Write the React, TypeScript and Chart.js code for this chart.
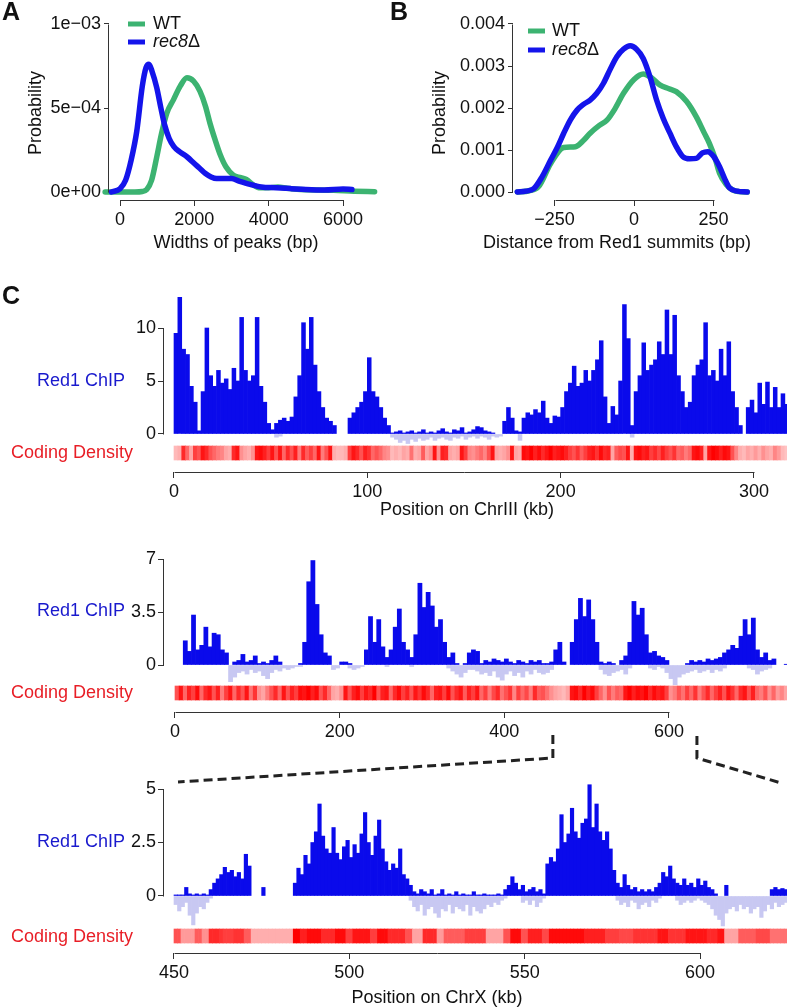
import React, { useEffect, useRef } from 'react';
import { Chart, registerables } from 'chart.js';
Chart.register(...registerables);

const FONT = "'Liberation Sans', Arial, Helvetica, sans-serif";
Chart.defaults.font.family = FONT;
Chart.defaults.color = '#111';

// ---------- Panel A: widths of peaks (bp) ----------
const A_WT_X = [-400, 0, 400, 600, 720, 850, 990, 1120, 1260, 1440, 1620, 1800, 1980, 2150, 2300, 2420, 2560, 2700, 2850, 3050, 3250, 3400, 3600, 3770, 4000, 4250, 4500, 4850, 5300, 5750, 6300, 6850];
const A_WT_Y = [0, 0, 0, 0.000003, 0.000015, 0.00007, 0.00021, 0.00035, 0.00047, 0.00055, 0.00063, 0.00068, 0.00066, 0.0006, 0.00051, 0.00041, 0.00031, 0.00022, 0.00015, 0.0001, 0.000085, 0.000075, 0.00004, 0.000025, 0.000025, 0.00003, 0.000022, 0.000015, 0.000012, 0.00001, 0.000005, 0.000002];
const A_REC_X = [-230, 0, 150, 300, 450, 600, 700, 780, 860, 990, 1100, 1200, 1320, 1450, 1600, 1800, 2000, 2150, 2300, 2450, 2600, 2800, 3000, 3200, 3500, 3800, 4200, 4600, 5000, 5500, 6000, 6240];
const A_REC_Y = [0, 0.00002, 0.00007, 0.00019, 0.00036, 0.00063, 0.00074, 0.00076, 0.00072, 0.00062, 0.0005, 0.0004, 0.00032, 0.00027, 0.00024, 0.00021, 0.00017, 0.00014, 0.00011, 0.00009, 0.00008, 0.00008, 0.00008, 0.000065, 0.000045, 0.00003, 0.000025, 0.00002, 0.000015, 0.000012, 0.000018, 0.000015];
const A_X_TICKS = [0, 2000, 4000, 6000];
const A_X_LABELS = ['0', '2000', '4000', '6000'];
const A_Y_TICKS = [0, 0.0005, 0.001];
const A_Y_LABELS = ['0e+00', '5e\u221204', '1e\u221203'];

// ---------- Panel B: distance from Red1 summits (bp) ----------
const B_WT_X = [-367, -330, -300, -262, -221, -184, -160, -138, -110, -85, -60, -33, 0, 29, 55, 81, 110, 133, 165, 196, 220, 237, 255, 269, 290, 310, 330, 356];
const B_WT_Y = [0, 0.00003, 0.00013, 0.00068, 0.00106, 0.00108, 0.00122, 0.0014, 0.00158, 0.00171, 0.00198, 0.00235, 0.00268, 0.00281, 0.00272, 0.00255, 0.00246, 0.00239, 0.00216, 0.00179, 0.00142, 0.00116, 0.0008, 0.00045, 0.00018, 0.00005, 0.00001, 0];
const B_REC_X = [-367, -340, -315, -290, -262, -240, -221, -200, -179, -160, -138, -117, -96, -75, -54, -33, -12, 8, 29, 50, 71, 92, 113, 133, 154, 175, 196, 215, 232, 250, 269, 285, 300, 325, 356];
const B_REC_Y = [0, 0.00002, 0.00008, 0.00035, 0.00076, 0.00108, 0.0014, 0.00172, 0.00195, 0.00208, 0.00219, 0.00235, 0.00259, 0.00292, 0.00322, 0.0034, 0.00348, 0.0034, 0.00318, 0.00275, 0.00219, 0.00175, 0.0014, 0.00108, 0.00084, 0.00079, 0.0008, 0.00093, 0.00096, 0.00085, 0.0006, 0.00032, 0.0001, 0.00002, 0];
const B_X_TICKS = [-250, 0, 250];
const B_X_LABELS = ['\u2212250', '0', '250'];
const B_Y_TICKS = [0, 0.001, 0.002, 0.003, 0.004];
const B_Y_LABELS = ['0.000', '0.001', '0.002', '0.003', '0.004'];

// ---------- Panel C, track 1: ChrIII, 2 kb bins from 0 kb ----------
const CHR3_START = 0;
const CHR3_BIN = 2;
const CHR3_POS = [
  9.5, 12.9, 8.0, 7.5, 4.5, 3.0, 0.3, 4.0, 10.0, 5.5,
  4.5, 6.0, 4.8, 5.2, 4.2, 6.2, 5.0, 11.0, 6.0, 5.0,
  5.5, 11.0, 4.5, 3.0, 1.0, 0.4, 1.0, 1.3, 1.5, 1.2,
  1.6, 3.5, 5.5, 10.5, 8.0, 11.0, 6.5, 4.0, 2.5, 1.5,
  1.2, 0.8, 0, 0, 0, 1.5, 2.0, 2.5, 3.0, 4.0,
  7.2, 4.0, 3.5, 2.5, 1.5, 0.8, 0.1, 0.2, 0.3, 0.1,
  0.2, 0.3, 0.1, 0.2, 0.4, 0.1, 0.2, 0.1, 0.3, 0.5,
  0.2, 0.1, 0.4, 0.3, 0.6, 0.1, 0.2, 0.4, 0.7, 0.6,
  0.3, 0.2, 0.1, 0, 0, 1.2, 2.5, 1.5, 0.3, 0.2,
  1.5, 2.0, 1.8, 2.3, 2.0, 3.1, 1.5, 1.0, 1.7, 1.6,
  2.5, 4.0, 4.8, 6.4, 4.5, 4.8, 6.0, 5.0, 6.0, 7.0,
  8.8, 3.5, 1.0, 2.6, 1.8, 5.0, 12.2, 9.0, 0.8, 4.0,
  5.5, 8.6, 6.0, 6.5, 7.0, 8.7, 7.5, 11.7, 7.5, 11.2,
  5.5, 4.0, 2.5, 3.0, 5.5, 6.5, 7.0, 10.5, 5.5, 6.0,
  5.0, 8.0, 5.5, 8.7, 4.0, 2.5, 0.8, 0, 2.5, 3.2,
  2.0, 4.8, 2.8, 4.9, 2.5, 4.4, 2.5, 3.8, 2.8,
];
const CHR3_NEG = [
  0, 0, 0, 0, 0, 0, 0, 0, 0, 0,
  0, 0, 0, 0, 0, 0, 0, 0, 0, 0,
  0, 0, 0, 0, 0, 0, -0.3, -0.2, 0, 0,
  0, 0, 0, 0, 0, 0, 0, 0, 0, 0,
  0, 0, 0, 0, 0, 0, 0, 0, 0, 0,
  0, 0, 0, 0, 0, 0, -0.3, -0.5, -0.8, -0.6,
  -0.9, -0.5, -0.7, -0.4, -0.6, -0.5, -0.3, -0.6, -0.4, -0.3,
  -0.5, -0.6, -0.3, -0.4, -0.2, -0.5, -0.3, -0.2, -0.4, -0.2,
  -0.3, -0.5, -0.2, -0.3, -0.2, 0, 0, 0, 0, -0.6,
  0, 0, 0, 0, 0, 0, 0, 0, 0, 0,
  0, 0, 0, 0, 0, 0, 0, 0, 0, 0,
  0, 0, 0, 0, 0, 0, 0, 0, -0.3, 0,
  0, 0, 0, 0, 0, 0, 0, 0, 0, 0,
  0, 0, 0, 0, 0, 0, 0, 0, 0, 0,
  0, 0, 0, 0, 0, 0, 0, 0, 0, 0,
  0, 0, 0, 0, 0, 0, 0, 0, 0,
];
const CHR3_COD = [
  0.1, 0.15, 0.8, 0.5, 0.2, 0.7, 0.6, 0.9, 0.8, 0.6,
  0.5, 0.4, 0.35, 0.2, 0.15, 0.8, 0.9, 0.3, 0.2, 0.15,
  0.3, 0.9, 0.95, 0.85, 0.7, 0.9, 0.6, 0.9, 0.5, 0.8,
  0.6, 0.85, 0.4, 0.8, 0.55, 0.7, 0.5, 0.9, 0.4, 0.6,
  0.9, 0.15, 0.1, 0.1, 0.15, 0.7, 0.9, 0.8, 0.6, 0.85,
  0.75, 0.5, 0.6, 0.5, 0.35, 0.3, 0.1, 0.15, 0.1, 0.2,
  0.15, 0.45, 0.15, 0.2, 0.55, 0.2, 0.3, 0.9, 0.3, 0.85,
  0.8, 0.2, 0.15, 0.2, 0.9, 0.7, 0.35, 0.3, 0.4, 0.5,
  0.35, 0.6, 0.9, 0.2, 0.15, 0.2, 0.3, 0.9, 0.2, 0.15,
  0.95, 0.9, 1.0, 0.85, 0.95, 0.8, 0.9, 1.0, 0.85, 0.9,
  0.95, 0.85, 0.7, 0.6, 0.75, 0.55, 0.7, 0.85, 0.9, 0.75,
  0.95, 0.8, 0.85, 0.2, 0.55, 0.65, 0.6, 0.9, 0.15, 0.9,
  0.95, 0.85, 0.9, 0.7, 0.8, 0.65, 0.85, 0.7, 0.6, 0.75,
  0.5, 0.55, 0.4, 0.5, 0.9, 0.95, 0.85, 0.2, 0.9, 1.0,
  0.95, 0.85, 0.95, 0.9, 0.6, 0.35, 0.15, 0.1, 0.2, 0.15,
  0.25, 0.15, 0.3, 0.2, 0.15, 0.35, 0.25, 0.1, 0.05,
];
const CHR3_X_TICKS = [0, 100, 200, 300];
const CHR3_Y_TICKS = [0, 5, 10];
const CHR3_Y_LABELS = ['0', '5', '10'];

// ---------- Panel C, track 2: ChrX, 5 kb bins from 0 kb ----------
const CHRX_START = 0;
const CHRX_BIN = 5;
const CHRX_POS = [
  0, 0, 1.6, 0.9, 3.3, 1.0, 1.3, 2.5, 1.2, 2.1,
  2.0, 1.0, 0.8, 0, 0.2, 0.3, 0.7, 0.2, 0.3, 0.6,
  0.1, 0.2, 0.1, 0.3, 0.6, 0.2, 0, 0, 0, 0,
  0.1, 1.5, 5.5, 6.9, 4.0, 2.0, 0.8, 0.6, 0, 0,
  0.2, 0.2, 0.1, 0, 0, 0, 1.0, 3.2, 1.5, 3.0,
  1.2, 0.5, 1.0, 2.5, 3.7, 1.5, 1.0, 0.5, 2.0, 5.4,
  3.8, 4.8, 3.9, 2.5, 3.0, 1.5, 0.5, 0.8, 0.1, 0,
  0.1, 0.8, 1.0, 0.9, 0.1, 0.3, 0.2, 0.4, 0.3, 0.2,
  0.4, 0.2, 0.1, 0.3, 0.2, 0.1, 0.3, 0.2, 0.3, 0.1,
  0.1, 0.2, 1.0, 1.5, 0.2, 0, 1.5, 3.0, 4.4, 3.2,
  4.3, 3.0, 1.5, 0.2, 0.1, 0.2, 0.1, 0, 0.3, 0.6,
  1.5, 4.2, 3.3, 3.75, 2.0, 0.8, 0.9, 0.6, 0.5, 0.3,
  0, 0, 0, 0, 0.1, 0.3, 0.2, 0.3, 0.2, 0.4,
  0.3, 0.4, 0.5, 0.8, 1.0, 1.3, 1.1, 1.9, 3.0, 2.0,
  3.1, 1.0, 0.5, 0.8, 0.3, 0.4, 0, 0, 0.05,
];
const CHRX_NEG = [
  0, 0, 0, 0, 0, 0, 0, 0, 0, 0,
  0, 0, 0, -1.1, -0.8, -0.5, -0.4, -0.6, -0.3, -0.5,
  -0.4, -0.7, -0.9, -0.5, -0.3, -0.4, -0.2, -0.3, -0.2, -0.1,
  -0.1, 0, 0, 0, 0, 0, 0, 0, -0.3, -0.2,
  0, 0, -0.2, -0.3, -0.2, -0.1, 0, 0, 0, 0,
  0, -0.1, 0, 0, 0, 0, 0, -0.1, 0, 0,
  0, 0, 0, 0, 0, 0, -0.2, -0.4, -0.6, -0.8,
  -0.5, -0.3, -0.3, -0.4, -0.6, -0.5, -0.7, -0.4, -0.8, -1.0,
  -0.6, -0.4, -0.7, -0.5, -0.8, -0.4, -0.6, -0.3, -0.5, -0.6,
  -0.5, -0.3, 0, 0, 0, 0, 0, 0, 0, 0,
  0, 0, 0, -0.3, -0.6, -0.7, -0.5, -0.4, -0.3, -0.6,
  -0.2, 0, 0, 0, 0, -0.2, -0.3, -0.1, -0.2, -0.5,
  -0.9, -1.3, -0.8, -0.6, -0.5, -0.4, -0.3, -0.5, -0.4, -0.3,
  -0.5, -0.3, -0.4, -0.2, 0, 0, 0, 0, 0, -0.2,
  -0.3, -0.6, -0.4, -0.3, -0.2, 0, 0, 0, 0,
];
const CHRX_COD = [
  0.6, 0.9, 0.5, 0.85, 0.7, 0.95, 0.5, 0.8, 0.9, 0.6,
  0.85, 0.4, 0.7, 0.9, 0.5, 0.8, 0.6, 0.9, 0.45, 0.75,
  0.3, 0.2, 0.4, 0.6, 0.8, 0.5, 0.9, 0.6, 0.85, 0.7,
  0.95, 0.9, 1.0, 0.85, 0.95, 0.6, 0.8, 0.5, 0.2, 0.15,
  0.3, 0.9, 0.6, 0.85, 0.95, 0.7, 0.9, 0.8, 1.0, 0.6,
  0.85, 0.9, 0.5, 0.8, 0.95, 0.7, 0.85, 0.6, 0.9, 0.75,
  0.95, 0.8, 0.5, 0.85, 0.9, 0.7, 0.95, 0.6, 0.8, 0.9,
  0.55, 0.85, 0.7, 0.9, 0.5, 0.7, 0.4, 0.65, 0.8, 0.45,
  0.6, 0.75, 0.35, 0.7, 0.5, 0.65, 0.4, 0.8, 0.55, 0.6,
  0.45, 0.3, 0.2, 0.15, 0.1, 0.2, 0.9, 0.95, 0.8, 1.0,
  0.85, 0.95, 0.7, 0.5, 0.3, 0.6, 0.4, 0.55, 0.5, 0.9,
  1.0, 0.85, 0.95, 0.9, 1.0, 0.8, 0.95, 0.85, 0.9, 0.7,
  0.3, 0.4, 0.6, 0.45, 0.7, 0.5, 0.75, 0.4, 0.6, 0.8,
  0.5, 0.7, 0.85, 0.6, 0.9, 0.75, 0.5, 0.8, 0.9, 0.6,
  0.85, 0.5, 0.4, 0.6, 0.3, 0.5, 0.25, 0.35, 0.2,
];
const CHRX_X_TICKS = [0, 200, 400, 600];
const CHRX_Y_TICKS = [0, 3.5, 7];
const CHRX_Y_LABELS = ['0', '3.5', '7'];
const ZOOM_MARKS = [459, 634]; // where the dashed connectors leave the ChrX axis (kb)

// ---------- Panel C, track 3: ChrX 450-625 kb, 1 kb bins ----------
const ZX_START = 450;
const ZX_BIN = 1;
const ZX_POS = [
  0.05, 0.05, 0.05, 0.4, 0.1, 0.05, 0.1, 0.05, 0.1, 0.05,
  0.3, 0.6, 0.8, 1.0, 1.34, 1.1, 1.2, 0.9, 1.1, 0.8,
  1.95, 1.4, 0, 0, 0, 0.4, 0, 0, 0, 0,
  0, 0, 0, 0, 0.6, 1.3, 1.0, 1.9, 1.5, 2.5,
  3.0, 4.3, 2.8, 2.2, 2.0, 3.2, 2.0, 1.7, 2.3, 2.6,
  1.8, 2.4, 2.0, 2.9, 3.9, 2.5, 1.9, 2.8, 3.55, 2.2,
  1.6, 1.2, 1.5, 1.3, 2.2, 1.0, 0.8, 0.5, 0.2, 0.1,
  0.3, 0.2, 0.1, 0.3, 0.05, 0.1, 0.3, 0.05, 0.1, 0.05,
  0.2, 0.05, 0.1, 0.05, 0.05, 0.2, 0.05, 0.05, 0.1, 0.05,
  0.05, 0.05, 0.1, 0.05, 0.3, 0.5, 0.9, 0.6, 0.3, 0.5,
  0.2, 0.3, 0.4, 0.2, 0.3, 0.1, 1.5, 1.8, 1.6, 2.2,
  3.8, 2.5, 2.9, 4.1, 3.0, 2.7, 3.4, 3.6, 5.2, 3.2,
  4.3, 3.0, 2.6, 3.0, 2.2, 1.2, 0.6, 0.4, 1.0, 0.5,
  0.3, 0.4, 0.2, 0.3, 0.2, 0.3, 0.2, 0.4, 0.6, 1.1,
  0.9, 1.4, 0.8, 0.6, 0.5, 0.8, 0.5, 0.6, 0.4, 0.8,
  0.5, 0.7, 0.4, 0.3, 0.1, 0, 0, 0.5, 0, 0,
  0, 0, 0, 0, 0, 0, 0, 0, 0, 0,
  0.3, 0.4, 0.3, 0.35, 0.3,
];
const ZX_NEG = [
  -0.4, -0.7, -0.5, -0.3, -0.9, -1.35, -0.8, -0.5, -0.6, -0.3,
  -0.1, 0, 0, 0, 0, 0, 0, 0, 0, 0,
  0, 0, 0, 0, 0, 0, 0, 0, 0, 0,
  0, 0, 0, 0, 0, 0, 0, 0, 0, 0,
  0, 0, 0, 0, 0, 0, 0, 0, 0, 0,
  0, 0, 0, 0, 0, 0, 0, 0, 0, 0,
  0, 0, 0, 0, 0, 0, 0, -0.2, -0.5, -0.7,
  -0.4, -0.9, -0.6, -0.5, -0.8, -1.0, -0.6, -0.7, -0.4, -0.8,
  -0.5, -0.6, -0.7, -0.4, -0.9, -0.5, -0.7, -0.8, -0.6, -0.4,
  -0.5, -0.3, -0.4, -0.2, -0.1, 0, 0, 0, 0, -0.3,
  -0.2, -0.4, -0.2, -0.5, -0.3, -0.1, 0, 0, 0, 0,
  0, 0, 0, 0, 0, 0, 0, 0, 0, 0,
  0, 0, 0, 0, 0, 0, -0.2, -0.4, -0.3, -0.5,
  -0.2, -0.3, -0.6, -0.4, -0.3, -0.5, -0.2, -0.3, -0.1, 0,
  0, 0, 0, -0.2, -0.4, -0.3, -0.2, -0.3, -0.2, -0.1,
  -0.2, -0.3, -0.4, -0.6, -0.9, -1.1, -1.4, -0.8, -0.6, -0.5,
  -0.7, -0.4, -0.6, -0.5, -0.8, -0.6, -0.5, -1.0, -0.7, -0.4,
  -0.6, -0.3, -0.5, -0.4, -0.3,
];
const ZX_COD = [
  0.6, 0.6, 0.25, 0.25, 0.25, 0.25, 0.55, 0.55, 0.3, 0.3,
  0.8, 0.8, 0.8, 0.75, 0.7, 0.7, 0.7, 0.75, 0.75, 0.75,
  0.55, 0.55, 0.15, 0.15, 0.15, 0.15, 0.15, 0.15, 0.15, 0.15,
  0.15, 0.15, 0.15, 0.15, 1.0, 1.0, 0.85, 0.85, 0.95, 0.95,
  0.95, 0.95, 0.8, 0.8, 0.8, 0.8, 0.95, 0.95, 0.95, 0.7,
  0.7, 0.9, 0.9, 0.9, 0.9, 0.9, 0.7, 0.7, 0.95, 0.95,
  0.95, 0.8, 0.8, 0.8, 0.8, 0.8, 0.6, 0.6, 0.2, 0.2,
  0.2, 0.8, 0.8, 0.8, 0.8, 0.25, 0.25, 0.55, 0.55, 0.55,
  0.55, 0.55, 0.55, 0.7, 0.7, 0.7, 0.7, 0.7, 0.7, 0.2,
  0.2, 0.2, 0.2, 0.2, 0.6, 0.6, 0.95, 0.95, 0.95, 0.6,
  0.6, 0.85, 0.85, 0.85, 0.85, 0.65, 0.65, 0.95, 0.95, 0.95,
  0.95, 0.95, 0.95, 0.95, 0.95, 0.95, 0.95, 0.85, 0.85, 0.85,
  0.85, 0.85, 0.85, 0.7, 0.7, 0.7, 0.7, 0.65, 0.65, 0.65,
  0.65, 0.75, 0.75, 0.75, 0.75, 0.75, 0.75, 0.75, 0.9, 0.9,
  0.9, 0.75, 0.75, 0.75, 0.75, 0.75, 0.9, 0.9, 0.9, 0.9,
  0.9, 0.9, 0.8, 0.8, 0.8, 0.9, 0.9, 0.2, 0.2, 0.2,
  0.2, 0.55, 0.55, 0.55, 0.55, 0.55, 0.65, 0.65, 0.65, 0.65,
  0.45, 0.45, 0.45, 0.45, 0.45,
];
const ZX_X_TICKS = [450, 500, 550, 600];
const ZX_Y_TICKS = [0, 2.5, 5];
const ZX_Y_LABELS = ['0', '2.5', '5'];

// ---------- styles ----------
const GREEN = 'rgb(60,179,113)';
const BLUE_LINE = 'rgb(20,20,235)';
const POS_COLOR = 'rgb(10,10,235)';
const NEG_COLOR = 'rgb(200,200,242)';
const TXT_BLUE = 'rgb(25,25,205)';
const TXT_RED = 'rgb(232,30,38)';
const AXIS_COLOR = '#333';
const codColor = (v: number) => {
  const g = Math.round(205 * (1 - v));
  return `rgb(255,${g},${g})`;
};

// ---------- plugins ----------
const rAxisPlugin = {
  id: 'raxis',
  afterDraw(chart: any, _a: any, opts: any) {
    const ctx = chart.ctx;
    const { left, bottom } = chart.chartArea;
    ctx.save();
    ctx.strokeStyle = AXIS_COLOR;
    ctx.lineWidth = 1;
    if (opts.x) {
      const s = chart.scales.x;
      const a = s.getPixelForValue(opts.x[0]);
      const b = s.getPixelForValue(opts.x[opts.x.length - 1]);
      ctx.beginPath();
      ctx.moveTo(Math.round(a) + 0.5, Math.round(bottom) + 0.5);
      ctx.lineTo(Math.round(b) + 0.5, Math.round(bottom) + 0.5);
      ctx.stroke();
    }
    if (opts.y) {
      const s = chart.scales.y;
      const a = s.getPixelForValue(opts.y[0]);
      const b = s.getPixelForValue(opts.y[opts.y.length - 1]);
      ctx.beginPath();
      ctx.moveTo(Math.round(left) - 0.5, Math.round(a) + 0.5);
      ctx.lineTo(Math.round(left) - 0.5, Math.round(b) + 0.5);
      ctx.stroke();
    }
    ctx.restore();
  },
};

const textPlugin = {
  id: 'texts',
  afterDraw(chart: any, _a: any, opts: any) {
    const ctx = chart.ctx;
    const items = (opts && opts.items) || [];
    for (const it of items) {
      ctx.save();
      if (it.kind === 'seg') {
        ctx.strokeStyle = it.color;
        ctx.lineWidth = it.width;
        ctx.lineCap = 'butt';
        ctx.beginPath();
        ctx.moveTo(it.x1, it.y);
        ctx.lineTo(it.x2, it.y);
        ctx.stroke();
      } else {
        const size = it.size || 18;
        const parts = it.parts || [{ t: it.text }];
        const fontOf = (p: any) => `${p.italic ? 'italic ' : ''}${it.bold ? 'bold ' : ''}${size}px ${FONT}`;
        let total = 0;
        const ws = parts.map((p: any) => {
          ctx.font = fontOf(p);
          const w = ctx.measureText(p.t).width;
          total += w;
          return w;
        });
        ctx.translate(it.x, it.y);
        if (it.rotate) ctx.rotate(it.rotate);
        let x = it.align === 'center' ? -total / 2 : it.align === 'right' ? -total : 0;
        ctx.fillStyle = it.color || '#111';
        ctx.textBaseline = 'middle';
        ctx.textAlign = 'left';
        parts.forEach((p: any, i: number) => {
          ctx.font = fontOf(p);
          ctx.fillText(p.t, x, 0);
          x += ws[i];
        });
      }
      ctx.restore();
    }
  },
};

const connectorPlugin = {
  id: 'connectors',
  afterDraw(chart: any, _a: any, opts: any) {
    const paths = (opts && opts.paths) || [];
    if (!paths.length) return;
    const ctx = chart.ctx;
    const s = chart.scales.x;
    ctx.save();
    ctx.strokeStyle = '#222';
    ctx.lineWidth = 3;
    ctx.setLineDash([9, 5]);
    for (const p of paths) {
      const x0 = s.getPixelForValue(p.at);
      ctx.beginPath();
      ctx.moveTo(x0, p.y1);
      ctx.lineTo(x0, p.y2);
      ctx.lineTo(p.toX, p.toY);
      ctx.stroke();
    }
    ctx.restore();
  },
};

// ---------- helpers ----------
const tickFont = { size: 18, family: FONT };

function axisX(o: any) {
  return {
    type: 'linear',
    min: o.min,
    max: o.max,
    offset: false,
    afterBuildTicks: (s: any) => { s.ticks = o.ticks.map((v: number) => ({ value: v })); },
    afterFit: (s: any) => { s.height = o.height; },
    grid: { display: true, offset: false, drawOnChartArea: false, drawTicks: true, tickLength: 6, color: AXIS_COLOR, lineWidth: 1 },
    border: { display: false },
    ticks: { font: tickFont, color: '#111', padding: 3, autoSkip: false, maxRotation: 0, minRotation: 0, callback: (_v: any, i: number) => o.labels[i] },
  };
}
function axisY(o: any) {
  return {
    type: 'linear',
    min: o.min,
    max: o.max,
    afterBuildTicks: (s: any) => { s.ticks = o.ticks.map((v: number) => ({ value: v })); },
    afterFit: (s: any) => { s.width = o.width; },
    grid: { display: true, drawOnChartArea: false, drawTicks: true, tickLength: o.tickLength || 6, color: AXIS_COLOR, lineWidth: 1 },
    border: { display: false },
    ticks: { font: tickFont, color: '#111', padding: o.padding ?? 2, autoSkip: false, callback: (_v: any, i: number) => o.labels[i] },
  };
}
const pts = (xs: number[], ys: number[]) => xs.map((x, i) => ({ x, y: ys[i] }));
const lineDs = (data: any[], color: string, order: number) => ({
  data, borderColor: color, backgroundColor: color, borderWidth: 5.5, pointRadius: 0,
  cubicInterpolationMode: 'monotone', clip: false, order, fill: false,
  borderCapStyle: 'round', borderJoinStyle: 'round',
});

function densityConfig(p: any) {
  return {
    type: 'line',
    data: { datasets: [lineDs(p.rec, BLUE_LINE, 1), lineDs(p.wt, GREEN, 2)] },
    options: {
      responsive: false, animation: false, devicePixelRatio: 1, events: [],
      layout: { padding: { top: p.padTop, right: p.padRight, left: 0, bottom: 0 } },
      plugins: { legend: { display: false }, tooltip: { enabled: false }, raxis: { x: p.xTicks, y: p.yTicks }, texts: { items: p.texts } },
      scales: {
        x: axisX({ min: p.xMin, max: p.xMax, ticks: p.xTicks, labels: p.xLabels, height: p.xHeight }),
        y: axisY({ min: p.yMin, max: p.yMax, ticks: p.yTicks, labels: p.yLabels, width: p.yWidth, tickLength: 5, padding: 3 }),
      },
    },
    plugins: [rAxisPlugin, textPlugin],
  };
}

function trackConfig(p: any) {
  const xOf = (i: number) => p.start + p.bin * (i + 0.5);
  // empty bins (value 0) are left out so no hairline is drawn along zero
  const series = (arr: number[]) => arr.map((v, i) => ({ x: xOf(i), y: v === 0 ? null : v }));
  const barOpts = { grouped: false, barPercentage: 1, categoryPercentage: 1, borderWidth: 0 };
  return {
    type: 'bar',
    data: {
      datasets: [
        { ...barOpts, data: series(p.neg), backgroundColor: NEG_COLOR, yAxisID: 'y' },
        { ...barOpts, data: series(p.pos), backgroundColor: POS_COLOR, yAxisID: 'y' },
        { ...barOpts, data: p.cod.map((_v: number, i: number) => ({ x: xOf(i), y: [0, 1] })), backgroundColor: p.cod.map(codColor), yAxisID: 'yd' },
      ],
    },
    options: {
      responsive: false, animation: false, devicePixelRatio: 1, events: [],
      layout: { padding: { top: p.padTop, right: 0, left: 0, bottom: 0 } },
      plugins: {
        legend: { display: false }, tooltip: { enabled: false },
        raxis: { x: p.xTicks, y: p.yTicks }, texts: { items: p.texts }, connectors: { paths: p.connectors || [] },
      },
      scales: {
        x: axisX({ min: p.xMin, max: p.xMax, ticks: p.xTicks, labels: p.xTicks.map(String), height: p.xHeight }),
        y: axisY({ min: p.yMin, max: p.yMax, ticks: p.yTicks, labels: p.yLabels, width: 164, tickLength: 6, padding: 2 }),
        yd: { type: 'linear', display: false, min: p.ydMin, max: p.ydMax },
      },
    },
    plugins: [rAxisPlugin, textPlugin, connectorPlugin],
  };
}

function ChartCanvas({ left, top, width, height, config }: any) {
  const ref = useRef<HTMLCanvasElement>(null);
  useEffect(() => {
    const chart = new Chart(ref.current as HTMLCanvasElement, config);
    return () => chart.destroy();
  }, []);
  return <canvas ref={ref} width={width} height={height} style={{ position: 'absolute', left, top, width, height }} />;
}

const rec8 = [{ t: 'rec8', italic: true }, { t: '\u0394' }];
const lbl = (text: string, x: number, y: number, extra: any = {}) => ({ text, x, y, ...extra });

const configA = densityConfig({
  wt: pts(A_WT_X, A_WT_Y), rec: pts(A_REC_X, A_REC_Y),
  xMin: -296, xMax: 6995.5, yMin: -0.0000476, yMax: 0.0010238,
  xTicks: A_X_TICKS, xLabels: A_X_LABELS, yTicks: A_Y_TICKS, yLabels: A_Y_LABELS,
  yWidth: 109, xHeight: 62, padTop: 20, padRight: 15,
  texts: [
    lbl('A', 2, 13, { bold: true, size: 25 }),
    { kind: 'seg', x1: 128, x2: 145, y: 24, color: GREEN, width: 5 },
    { kind: 'seg', x1: 128, x2: 145, y: 42, color: BLUE_LINE, width: 5 },
    lbl('WT', 153, 24),
    { parts: rec8, x: 153, y: 42 },
    lbl('Probability', 36, 113, { rotate: -Math.PI / 2, align: 'center' }),
    lbl('Widths of peaks (bp)', 236, 243, { align: 'center' }),
  ],
});

const configB = densityConfig({
  wt: pts(B_WT_X, B_WT_Y), rec: pts(B_REC_X, B_REC_Y),
  xMin: -380.5, xMax: 396.2, yMin: -0.00019, yMax: 0.0040952,
  xTicks: B_X_TICKS, xLabels: B_X_LABELS, yTicks: B_Y_TICKS, yLabels: B_Y_LABELS,
  yWidth: 128, xHeight: 62, padTop: 20, padRight: 27,
  texts: [
    lbl('B', 5, 13, { bold: true, size: 25 }),
    { kind: 'seg', x1: 143, x2: 160, y: 31, color: GREEN, width: 5 },
    { kind: 'seg', x1: 143, x2: 160, y: 50, color: BLUE_LINE, width: 5 },
    lbl('WT', 167, 31),
    { parts: rec8, x: 167, y: 50 },
    lbl('Probability', 55, 113, { rotate: -Math.PI / 2, align: 'center' }),
    lbl('Distance from Red1 summits (bp)', 232, 243, { align: 'center' }),
  ],
});

const config1 = trackConfig({
  start: CHR3_START, bin: CHR3_BIN, pos: CHR3_POS, neg: CHR3_NEG, cod: CHR3_COD,
  xMin: -5.17, xMax: 317.1, yMin: -3.585, yMax: 13.585, ydMin: -0.857, ydMax: 12.143,
  xTicks: CHR3_X_TICKS, yTicks: CHR3_Y_TICKS, yLabels: CHR3_Y_LABELS,
  padTop: 18, xHeight: 48,
  texts: [
    lbl('C', 2, 25, { bold: true, size: 25 }),
    lbl('Red1 ChIP', 125, 109, { align: 'right', color: TXT_BLUE }),
    lbl('Coding Density', 133, 181, { align: 'right', color: TXT_RED }),
    lbl('Position on ChrIII (kb)', 467, 238, { align: 'center' }),
  ],
});

const config2 = trackConfig({
  start: CHRX_START, bin: CHRX_BIN, pos: CHRX_POS, neg: CHRX_NEG, cod: CHRX_COD,
  xMin: -13.36, xMax: 743.4, yMin: -3.104, yMax: 7.728, ydMin: -0.857, ydMax: 10.857,
  xTicks: CHRX_X_TICKS, yTicks: CHRX_Y_TICKS, yLabels: CHRX_Y_LABELS,
  padTop: 18, xHeight: 80,
  texts: [
    lbl('Red1 ChIP', 125, 81, { align: 'right', color: TXT_BLUE }),
    lbl('Coding Density', 133, 163, { align: 'right', color: TXT_RED }),
  ],
  connectors: [
    { at: ZOOM_MARKS[0], y1: 205, y2: 228, toX: 178, toY: 252 },
    { at: ZOOM_MARKS[1], y1: 206, y2: 228, toX: 781, toY: 253 },
  ],
});

const config3 = trackConfig({
  start: ZX_START, bin: ZX_BIN, pos: ZX_POS, neg: ZX_NEG, cod: ZX_COD,
  xMin: 447.15, xMax: 624.8, yMin: -2.664, yMax: 5.421, ydMin: -0.714, ydMax: 11.643,
  xTicks: ZX_X_TICKS, yTicks: ZX_Y_TICKS, yLabels: ZX_Y_LABELS,
  padTop: 18, xHeight: 54,
  texts: [
    lbl('Red1 ChIP', 125, 80, { align: 'right', color: TXT_BLUE }),
    lbl('Coding Density', 133, 175, { align: 'right', color: TXT_RED }),
    lbl('Position on ChrX (kb)', 437, 236, { align: 'center' }),
  ],
});

export default function App() {
  return (
    <div style={{ position: 'absolute', left: 0, top: 0, width: 787, height: 1007, background: '#fff', overflow: 'hidden' }}>
      <ChartCanvas left={0} top={0} width={395} height={262} config={configA} />
      <ChartCanvas left={385} top={0} width={402} height={262} config={configB} />
      <ChartCanvas left={0} top={272} width={787} height={248} config={config1} />
      <ChartCanvas left={0} top={530} width={787} height={262} config={config2} />
      <ChartCanvas left={0} top={762} width={787} height={245} config={config3} />
    </div>
  );
}
